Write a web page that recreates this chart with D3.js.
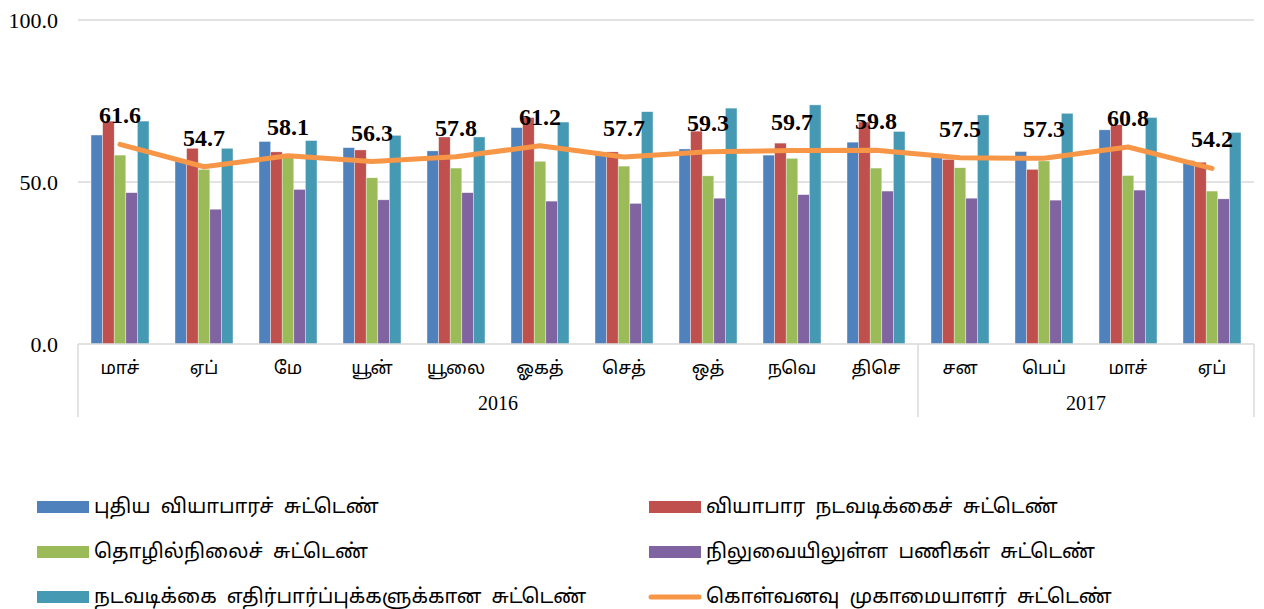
<!DOCTYPE html>
<html>
<head>
<meta charset="utf-8">
<script src="https://cdn.jsdelivr.net/npm/d3@7"></script>
<style>
  body { margin: 0; background: #fff; }
  .tamil { font-family: "Noto Sans Tamil", "Latha", "Lohit Tamil", "Noto Sans", sans-serif; }
  .serif { font-family: "Liberation Serif", "Times New Roman", serif; }
</style>
</head>
<body>
<div class="canvas"></div>
<script>
// data
const months = ['மாச்', 'ஏப்', 'மே', 'யூன்', 'யூலை', 'ஓகத்', 'செத்', 'ஒத்', 'நவெ', 'திசெ', 'சன', 'பெப்', 'மாச்', 'ஏப்'];
const years = ['2016', '2017'];
const yearSpans = [10, 4]; // months per year

const newBusiness = [64.5, 56.5, 62.5, 60.6, 59.6, 66.8, 59.0, 60.2, 58.3, 62.3, 58.7, 59.4, 66.1, 56.6];
const businessActivity = [68.8, 60.4, 59.3, 59.9, 63.9, 69.9, 59.3, 65.7, 62.0, 68.5, 57.0, 53.9, 67.7, 56.1];
const employment = [58.3, 53.9, 57.8, 51.3, 54.3, 56.4, 54.9, 51.9, 57.3, 54.3, 54.4, 56.5, 52.0, 47.2];
const backlogs = [46.7, 41.6, 47.7, 44.5, 46.7, 44.1, 43.4, 45.0, 46.1, 47.2, 45.0, 44.4, 47.5, 44.8];
const expectations = [68.8, 60.4, 62.8, 64.4, 63.9, 68.5, 71.7, 72.8, 73.8, 65.6, 70.7, 71.2, 69.9, 65.3];
const pmi = [61.6, 54.7, 58.1, 56.3, 57.8, 61.2, 57.7, 59.3, 59.7, 59.8, 57.5, 57.3, 60.8, 54.2];

const barNames = [
  'புதிய வியாபாரச் சுட்டெண்',
  'வியாபார நடவடிக்கைச் சுட்டெண்',
  'தொழில்நிலைச் சுட்டெண்',
  'நிலுவையிலுள்ள பணிகள் சுட்டெண்',
  'நடவடிக்கை எதிர்பார்ப்புக்களுக்கான சுட்டெண்'
];
const lineName = 'கொள்வனவு முகாமையாளர் சுட்டெண்';
const yTicks = [0, 50, 100];

const barSeries = [newBusiness, businessActivity, employment, backlogs, expectations];
const colors = ['#4F81BD', '#C0504D', '#9BBB59', '#8064A2', '#4699B3'];
const lineColor = '#F79646';

const width = 1264;
const height = 609;
const margin = { top: 20, right: 10, bottom: 265, left: 78 };
const graphWidth = 1254 - margin.left;
const graphHeight = 344 - margin.top;

const svg = d3.select('.canvas').append('svg')
  .attr('width', width)
  .attr('height', height);

const graph = svg.append('g')
  .attr('transform', `translate(${margin.left},${margin.top})`);

// scales
const idx = months.map((m, i) => i);
const x0 = d3.scaleBand().domain(idx).range([0, graphWidth])
  .paddingInner(0.31).paddingOuter(0.155);
const x1 = d3.scaleBand().domain(d3.range(barSeries.length)).range([0, x0.bandwidth()]);
const y = d3.scaleLinear().domain([0, 100]).range([graphHeight, 0]);
const step = x0.step();

// gridlines
graph.append('g')
  .selectAll('line')
  .data(yTicks.filter(t => t > 0))
  .enter().append('line')
    .attr('x1', 0)
    .attr('x2', graphWidth)
    .attr('y1', d => y(d))
    .attr('y2', d => y(d))
    .attr('stroke', '#d9d9d9')
    .attr('stroke-width', 1.5);

// y axis
const yAxisGroup = graph.append('g')
  .call(d3.axisLeft(y).tickValues(yTicks).tickSize(0).tickPadding(20).tickFormat(d3.format('.1f')));
yAxisGroup.select('.domain').remove();
yAxisGroup.selectAll('text')
  .attr('font-family', '"Liberation Serif", "Times New Roman", serif')
  .attr('font-size', 22)
  .attr('fill', '#000');

// bars
const groups = graph.selectAll('.grp')
  .data(idx)
  .enter().append('g')
    .attr('transform', i => `translate(${x0(i)},0)`);

groups.selectAll('rect')
  .data(i => barSeries.map((s, k) => ({ k, v: s[i] })))
  .enter().append('rect')
    .attr('x', d => x1(d.k))
    .attr('width', x1.bandwidth())
    .attr('y', d => y(d.v))
    .attr('height', d => graphHeight - y(d.v))
    .attr('fill', d => colors[d.k])
    .attr('stroke', 'rgba(255,255,255,0.6)')
    .attr('stroke-width', 0.6);

// category axis (bottom)
const axisG = graph.append('g').attr('transform', `translate(0,${graphHeight})`);
axisG.append('line')
  .attr('x1', 0).attr('x2', graphWidth)
  .attr('y1', 0).attr('y2', 0)
  .attr('stroke', '#d9d9d9').attr('stroke-width', 1.5);

// year separators
let bounds = [0];
yearSpans.forEach(n => bounds.push(bounds[bounds.length - 1] + n));
axisG.selectAll('.sep')
  .data(bounds)
  .enter().append('line')
    .attr('x1', b => b * step)
    .attr('x2', b => b * step)
    .attr('y1', 0)
    .attr('y2', 73)
    .attr('stroke', '#d9d9d9')
    .attr('stroke-width', 1.5);

axisG.selectAll('.month')
  .data(months)
  .enter().append('text')
    .attr('class', 'tamil')
    .attr('x', (d, i) => x0(i) + x0.bandwidth() / 2)
    .attr('y', 25)
    .attr('text-anchor', 'middle')
    .attr('dominant-baseline', 'middle')
    .attr('font-size', 18)
    .text(d => d);

axisG.selectAll('.year')
  .data(years)
  .enter().append('text')
    .attr('class', 'serif')
    .attr('x', (d, i) => (bounds[i] + bounds[i + 1]) / 2 * step)
    .attr('y', 61)
    .attr('text-anchor', 'middle')
    .attr('dominant-baseline', 'middle')
    .attr('font-size', 20)
    .text(d => d);

// PMI line
const line = d3.line()
  .x((d, i) => x0(i) + x0.bandwidth() / 2)
  .y(d => y(d));

graph.append('path')
  .datum(pmi)
  .attr('fill', 'none')
  .attr('stroke', lineColor)
  .attr('stroke-width', 5)
  .attr('stroke-linecap', 'round')
  .attr('stroke-linejoin', 'round')
  .attr('d', line);

// data labels
graph.selectAll('.lbl')
  .data(pmi)
  .enter().append('text')
    .attr('class', 'serif')
    .attr('x', (d, i) => x0(i) + x0.bandwidth() / 2)
    .attr('y', d => y(d) - 21)
    .attr('text-anchor', 'middle')
    .attr('font-size', 24)
    .attr('font-weight', 'bold')
    .text(d => d.toFixed(1));

// legend
const legendItems = barNames.map((n, k) => ({ name: n, color: colors[k], type: 'bar' }));
legendItems.push({ name: lineName, color: lineColor, type: 'line' });
const colX = [37, 649];
const rowY = [507, 552, 597];

const legend = svg.append('g');
const items = legend.selectAll('g')
  .data(legendItems)
  .enter().append('g')
    .attr('transform', (d, i) => `translate(${colX[i % 2]},${rowY[Math.floor(i / 2)]})`);

items.filter(d => d.type === 'bar').append('rect')
  .attr('x', 0).attr('y', -6)
  .attr('width', 52).attr('height', 12)
  .attr('fill', d => d.color);

items.filter(d => d.type === 'line').append('line')
  .attr('x1', 2).attr('x2', 50)
  .attr('y1', 0).attr('y2', 0)
  .attr('stroke', d => d.color)
  .attr('stroke-width', 5)
  .attr('stroke-linecap', 'round');

items.append('text')
  .attr('class', 'tamil')
  .attr('x', 57)
  .attr('y', 0)
  .attr('dominant-baseline', 'middle')
  .attr('font-size', 20)
  .attr('word-spacing', 5)
  .text(d => d.name);
</script>
</body>
</html>
